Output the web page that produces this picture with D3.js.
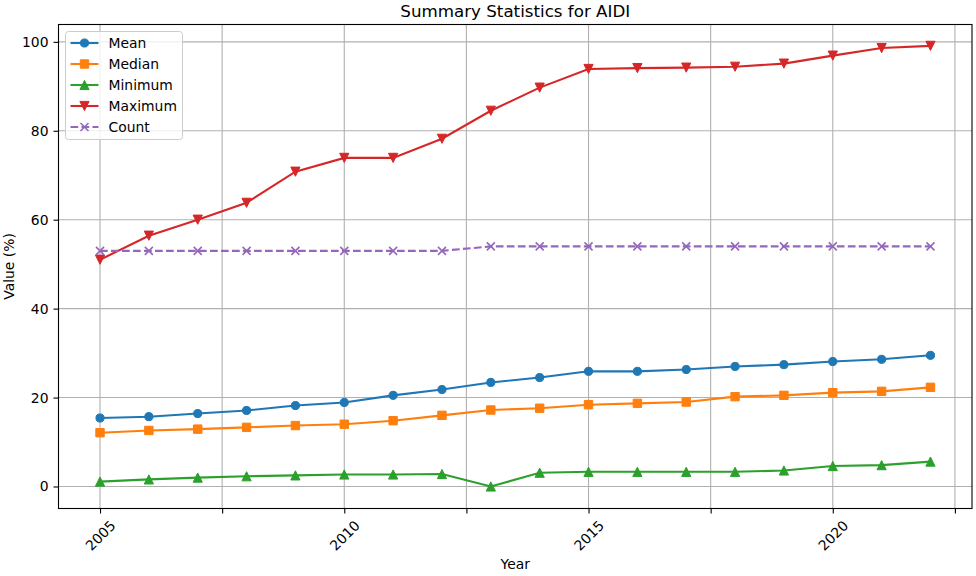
<!DOCTYPE html>
<html>
<head>
<meta charset="utf-8">
<title>Summary Statistics for AIDI</title>
<script src="https://cdn.jsdelivr.net/npm/d3@7"></script>
<style>
  body { margin: 0; background: white; }
  svg text { font-family: "DejaVu Sans", sans-serif; fill: black; }
</style>
</head>
<body>
<div id="chart"></div>
<script>
// data
var years = [2005, 2006, 2007, 2008, 2009, 2010, 2011, 2012, 2013,
             2014, 2015, 2016, 2017, 2018, 2019, 2020, 2021, 2022];
var meanVals = [15.4, 15.7, 16.4, 17.1, 18.2, 18.9, 20.5, 21.8, 23.4,
                24.5, 25.9, 25.9, 26.3, 27.0, 27.4, 28.1, 28.6, 29.5];
var medianVals = [12.1, 12.6, 12.9, 13.3, 13.7, 14.0, 14.8, 16.0, 17.2,
                  17.6, 18.4, 18.7, 19.0, 20.2, 20.5, 21.1, 21.4, 22.3];
var minVals = [1.1, 1.6, 2.0, 2.3, 2.5, 2.7, 2.7, 2.8, 0.0,
               3.1, 3.3, 3.3, 3.3, 3.3, 3.6, 4.6, 4.8, 5.6];
var maxVals = [51.0, 56.4, 60.0, 63.8, 70.8, 73.9, 73.9, 78.2, 84.5,
               89.7, 93.9, 94.1, 94.2, 94.4, 95.1, 96.9, 98.6, 99.1];
var countVals = [53, 53, 53, 53, 53, 53, 53, 53, 54,
                 54, 54, 54, 54, 54, 54, 54, 54, 54];
var xTicks = [2005, 2007.5, 2010, 2012.5, 2015, 2017.5, 2020, 2022.5];
var yTicks = [0, 20, 40, 60, 80, 100];

var series = [
  {name: "Mean", values: meanVals, color: "#1f77b4", marker: "circle"},
  {name: "Median", values: medianVals, color: "#ff7f0e", marker: "square"},
  {name: "Minimum", values: minVals, color: "#2ca02c", marker: "triUp"},
  {name: "Maximum", values: maxVals, color: "#d62728", marker: "triDown"},
  {name: "Count", values: countVals, color: "#9467bd", marker: "x", dash: "7.7,3.3"}
];

var width = 976, height = 576;
var margin = {left: 58.5, right: 4, top: 24.5, bottom: 67.5};
var plotW = width - margin.left - margin.right;
var plotH = height - margin.top - margin.bottom;

var svg = d3.select("#chart").append("svg")
  .attr("width", width)
  .attr("height", height);

var g = svg.append("g")
  .attr("transform", "translate(" + margin.left + "," + margin.top + ")");

// matplotlib style 5% margins
var x = d3.scaleLinear().domain([2005 - 0.85, 2022 + 0.85]).range([0, plotW]);
var y = d3.scaleLinear().domain([-4.95, 103.9]).range([plotH, 0]);

// grid
g.append("g").selectAll("line").data(xTicks).join("line")
  .attr("x1", function(d) { return x(d); }).attr("x2", function(d) { return x(d); })
  .attr("y1", 0).attr("y2", plotH)
  .attr("stroke", "#b0b0b0").attr("stroke-width", 1.1);
g.append("g").selectAll("line").data(yTicks).join("line")
  .attr("y1", function(d) { return y(d); }).attr("y2", function(d) { return y(d); })
  .attr("x1", 0).attr("x2", plotW)
  .attr("stroke", "#b0b0b0").attr("stroke-width", 1.1);

// axes
var xAxis = g.append("g")
  .attr("transform", "translate(0," + plotH + ")")
  .call(d3.axisBottom(x).tickValues(xTicks).tickSize(5)
    .tickFormat(function(d) { return d % 5 === 0 ? d3.format("d")(d) : ""; }));
xAxis.select(".domain").remove();
xAxis.selectAll(".tick line").attr("stroke", "black").attr("stroke-width", 1.1);
xAxis.selectAll(".tick text")
  .attr("font-size", 13.9)
  .attr("text-anchor", "middle")
  .attr("dominant-baseline", "central")
  .attr("dy", null)
  .attr("y", null)
  .attr("transform", "translate(0,27) rotate(-45)");

var yAxis = g.append("g")
  .call(d3.axisLeft(y).tickValues(yTicks).tickSize(5).tickPadding(5));
yAxis.select(".domain").remove();
yAxis.selectAll(".tick line").attr("stroke", "black").attr("stroke-width", 1.1);
yAxis.selectAll(".tick text").attr("font-size", 13.9);

svg.selectAll(".tick text").style("font-family", "DejaVu Sans, sans-serif");

// lines
var line = d3.line()
  .x(function(d, i) { return x(years[i]); })
  .y(function(d) { return y(d); });

function markerPath(type) {
  if (type === "circle") return d3.symbol(d3.symbolCircle, 52)();
  if (type === "square") return "M-4.2,-4.2H4.2V4.2H-4.2Z";
  if (type === "triUp") return "M0,-4.6L4.6,4.6L-4.6,4.6Z";
  if (type === "triDown") return "M0,4.6L4.6,-4.6L-4.6,-4.6Z";
  return "M-4,-4L4,4M-4,4L4,-4";
}

function drawMarker(sel, s) {
  sel.attr("d", markerPath(s.marker));
  if (s.marker === "x") {
    sel.attr("fill", "none").attr("stroke", s.color).attr("stroke-width", 1.6);
  } else {
    sel.attr("fill", s.color).attr("stroke", s.color).attr("stroke-width", 1);
  }
}

series.forEach(function(s) {
  var sg = g.append("g");
  sg.append("path")
    .datum(s.values)
    .attr("d", line)
    .attr("fill", "none")
    .attr("stroke", s.color)
    .attr("stroke-width", 2.1)
    .attr("stroke-dasharray", s.dash || null);
  sg.selectAll("path.mk").data(s.values).join("path")
    .attr("class", "mk")
    .attr("transform", function(d, i) { return "translate(" + x(years[i]) + "," + y(d) + ")"; })
    .call(drawMarker, s);
});

// frame
g.append("rect")
  .attr("width", plotW).attr("height", plotH)
  .attr("fill", "none").attr("stroke", "black").attr("stroke-width", 1.1);

// title and labels
svg.append("text")
  .attr("x", margin.left + plotW / 2).attr("y", 17)
  .attr("text-anchor", "middle").attr("font-size", 16.7)
  .text("Summary Statistics for AIDI");
svg.append("text")
  .attr("x", margin.left + plotW / 2).attr("y", 569)
  .attr("text-anchor", "middle").attr("font-size", 13.9)
  .text("Year");
svg.append("text")
  .attr("transform", "translate(14," + (margin.top + plotH / 2) + ") rotate(-90)")
  .attr("text-anchor", "middle").attr("font-size", 13.9)
  .text("Value (%)");

// legend
var legend = svg.append("g").attr("transform", "translate(65.5,31.5)");
legend.append("rect")
  .attr("width", 117).attr("height", 108).attr("rx", 3)
  .attr("fill", "white").attr("fill-opacity", 0.8)
  .attr("stroke", "#cccccc").attr("stroke-width", 1);
series.forEach(function(s, i) {
  var ly = 11.5 + i * 21;
  var item = legend.append("g").attr("transform", "translate(0," + ly + ")");
  item.append("line")
    .attr("x1", 5).attr("x2", 33).attr("y1", 0).attr("y2", 0)
    .attr("stroke", s.color).attr("stroke-width", 2.1)
    .attr("stroke-dasharray", s.dash || null);
  item.append("path")
    .attr("transform", "translate(19,0)")
    .call(drawMarker, s);
  item.append("text")
    .attr("x", 43).attr("y", 0).attr("dy", "0.35em")
    .attr("font-size", 13.9)
    .text(s.name);
});
</script>
</body>
</html>
